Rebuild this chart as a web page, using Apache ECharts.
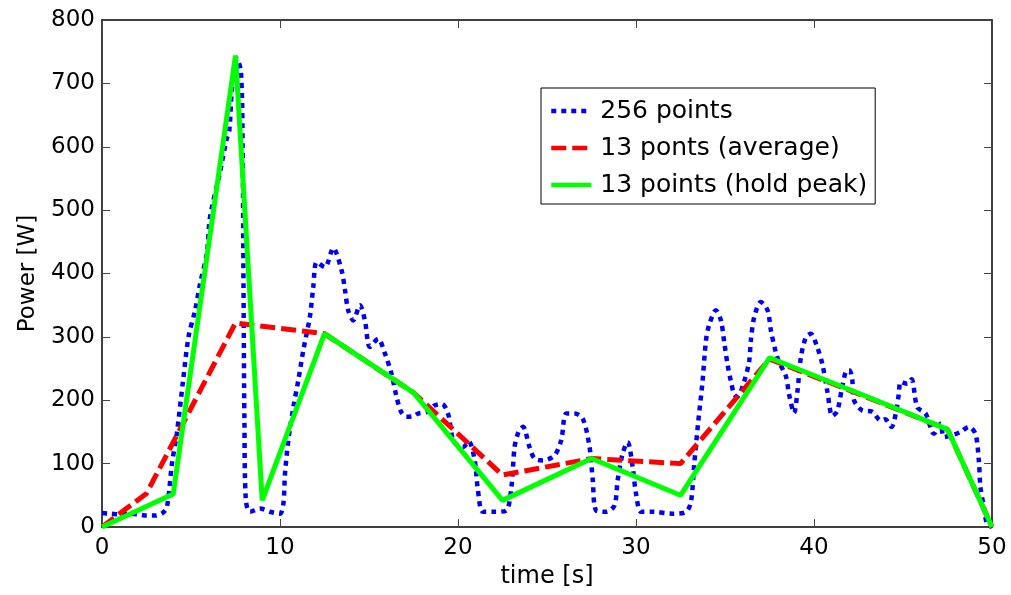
<!DOCTYPE html>
<html>
<head>
<meta charset="utf-8">
<script src="https://cdn.jsdelivr.net/npm/echarts@6/dist/echarts.min.js"></script>
<style>
html,body{margin:0;padding:0;background:#fff;}
#c{width:1011px;height:595px;}
</style>
</head>
<body>
<div id="c"></div>
<script>
// ---- data ----
const xTicks = [0, 10, 20, 30, 40, 50];
const yTicks = [0, 100, 200, 300, 400, 500, 600, 700, 800];
const seriesNames = ['256 points', '13 ponts (average)', '13 points (hold peak)'];

const blueT = [0, 0.5, 1.0, 1.5, 2.0, 2.5, 3.0, 3.4, 3.65, 3.93, 4.2, 4.55, 4.86, 5.23, 5.51, 5.89, 6.07, 6.63, 7.0, 7.15, 7.3, 7.55, 7.8, 7.9, 7.95, 8.0, 8.08,
  8.32, 8.88, 9.44, 10.0, 10.19, 10.28, 10.47, 10.75, 11.03, 11.31, 11.68, 11.87, 12.06, 12.52, 12.99, 13.46, 13.65, 13.83, 14.11, 14.49, 14.77, 15.05, 15.51, 15.89, 16.26, 16.55, 16.8,
  17.1, 17.5, 17.76, 18.3, 18.7, 19.1, 19.44, 19.72, 20.0, 20.28, 20.6, 20.94, 21.12, 21.4, 22.06, 22.71, 23.0, 23.18, 23.4, 23.65, 24.02, 24.3, 24.77,
  25.42, 25.8, 26.08, 26.55, 27.01, 27.39, 27.57, 27.76, 28.32, 28.79, 28.97, 29.25, 29.53, 29.81, 30.0, 30.29, 30.94, 32.06, 32.81, 33.09, 33.27, 33.5,
  33.74, 33.93, 34.12, 34.49, 34.77, 34.96, 35.14, 35.33, 35.52, 35.7, 36.08, 36.36, 36.45, 36.64, 37.01, 37.39, 37.58, 37.86, 38.04, 38.42, 38.6, 38.88,
  39.07, 39.26, 39.54, 39.82, 40.19, 40.47, 40.75, 41.03, 41.31, 41.59, 41.85, 42.0, 42.15, 42.25, 42.71, 43.28, 43.75, 44.0, 44.35, 44.6, 44.77, 44.87,
  45.24, 45.48, 45.8, 46.27, 46.74, 47.11, 47.3, 47.76, 48.23, 48.7, 49.07, 49.26, 49.35, 49.54, 49.72, 50];
const blueP = [22, 21, 20, 21, 20, 18, 18, 22, 32, 100, 147, 230, 300, 342, 384, 432, 489, 560, 612, 625, 690, 740, 720, 600, 380, 170, 42,
  24, 29, 24, 21, 37, 84, 137, 189, 232, 279, 332, 379, 418, 410, 440, 405, 374, 342, 326, 350, 326, 284, 297, 274, 242, 205, 182,
  174, 175, 179, 182, 192, 194, 179, 137, 128, 126, 135, 105, 58, 24, 24, 26, 63, 126, 150, 158, 126, 108, 105,
  113, 137, 179, 179, 171, 126, 74, 26, 24, 34, 74, 116, 134, 95, 53, 24, 24, 21, 24, 40, 99, 167,
  230, 294, 320, 342, 326, 291, 257, 230, 209, 206, 230, 262, 294, 331, 355, 342, 310, 275, 260, 238, 209, 180,
  214, 267, 299, 305, 283, 257, 214, 175, 183, 222, 247, 247, 232, 200, 184, 182, 168, 170, 158, 180, 211, 229,
  226, 233, 189, 179, 147, 163, 142, 145, 150, 158, 147, 105, 63, 32, 5, 0];

const avgT = [0, 2.5, 7.5, 12.5, 17.5, 22.5, 27.5, 32.5, 37.5, 42.5, 47.5, 50];
const avgP = [0, 53, 322, 305, 212, 82, 108, 100, 265, 210, 154, 0];

const peakT = [0, 4, 7.5, 9, 12.5, 17.5, 22.5, 27.5, 32.5, 37.5, 42.5, 47.5, 50];
const peakP = [0, 52, 744, 42, 305, 212, 42, 108, 50, 267, 211, 154, 0];

// ---- build chart ----
const zip = (a, b) => a.map((v, i) => [v, b[i]]);
const FONT = 'DejaVu Sans';

const baseAxis = {
  type: 'value',
  axisLine: {show: true, onZero: false, lineStyle: {color: '#000', width: 1.5}},
  axisTick: {show: true, inside: true, length: 8, lineStyle: {color: '#444', width: 1}},
  splitLine: {show: false}
};

const chart = echarts.init(document.getElementById('c'), null, {renderer: 'canvas'});
chart.setOption({
  backgroundColor: '#fff',
  animation: false,
  textStyle: {fontFamily: FONT},
  grid: {left: 102, right: 19, top: 20, bottom: 68, containLabel: false},
  legend: {
    data: seriesNames,
    orient: 'vertical',
    left: 541, top: 88,
    padding: [8, 8, 4, 8],
    itemWidth: 40, itemHeight: 14, itemGap: 7,
    itemStyle: {opacity: 0},
    lineStyle: {width: 4.5, type: 'inherit', color: 'inherit', cap: 'butt'},
    backgroundColor: '#fff',
    borderColor: '#000', borderWidth: 1, borderRadius: 0,
    textStyle: {fontFamily: FONT, fontSize: 25, color: '#000', lineHeight: 30, padding: [0, 0, 0, 4]}
  },
  xAxis: [
    Object.assign({}, baseAxis, {
      position: 'bottom', min: xTicks[0], max: xTicks[xTicks.length - 1], interval: xTicks[1] - xTicks[0],
      name: 'time [s]', nameLocation: 'middle', nameGap: 37,
      nameTextStyle: {fontFamily: FONT, fontSize: 24, color: '#000'},
      axisLabel: {fontFamily: FONT, fontSize: 23, color: '#000', margin: 10}
    }),
    Object.assign({}, baseAxis, {
      position: 'top', min: xTicks[0], max: xTicks[xTicks.length - 1], interval: xTicks[1] - xTicks[0],
      axisLabel: {show: false}
    })
  ],
  yAxis: [
    Object.assign({}, baseAxis, {
      position: 'left', min: yTicks[0], max: yTicks[yTicks.length - 1], interval: yTicks[1] - yTicks[0],
      name: 'Power [W]', nameLocation: 'middle', nameGap: 62, nameRotate: 90,
      nameTextStyle: {fontFamily: FONT, fontSize: 23, color: '#000'},
      axisLabel: {fontFamily: FONT, fontSize: 23, color: '#000', margin: 7}
    }),
    Object.assign({}, baseAxis, {
      position: 'right', min: yTicks[0], max: yTicks[yTicks.length - 1], interval: yTicks[1] - yTicks[0],
      axisLabel: {show: false}
    })
  ],
  series: [
    {
      name: seriesNames[0], type: 'line', data: zip(blueT, blueP),
      symbol: 'none', smooth: 0.3,
      lineStyle: {color: '#0000ff', width: 4.5, type: [5, 5], cap: 'butt'},
      itemStyle: {color: '#0000ff'}
    },
    {
      name: seriesNames[1], type: 'line', data: zip(avgT, avgP),
      symbol: 'none',
      lineStyle: {color: '#ff0000', width: 5, type: [15, 6], cap: 'butt'},
      itemStyle: {color: '#ff0000'}
    },
    {
      name: seriesNames[2], type: 'line', data: zip(peakT, peakP),
      symbol: 'none',
      lineStyle: {color: '#00ff00', width: 5, type: 'solid'},
      itemStyle: {color: '#00ff00'}
    }
  ]
});
</script>
</body>
</html>
